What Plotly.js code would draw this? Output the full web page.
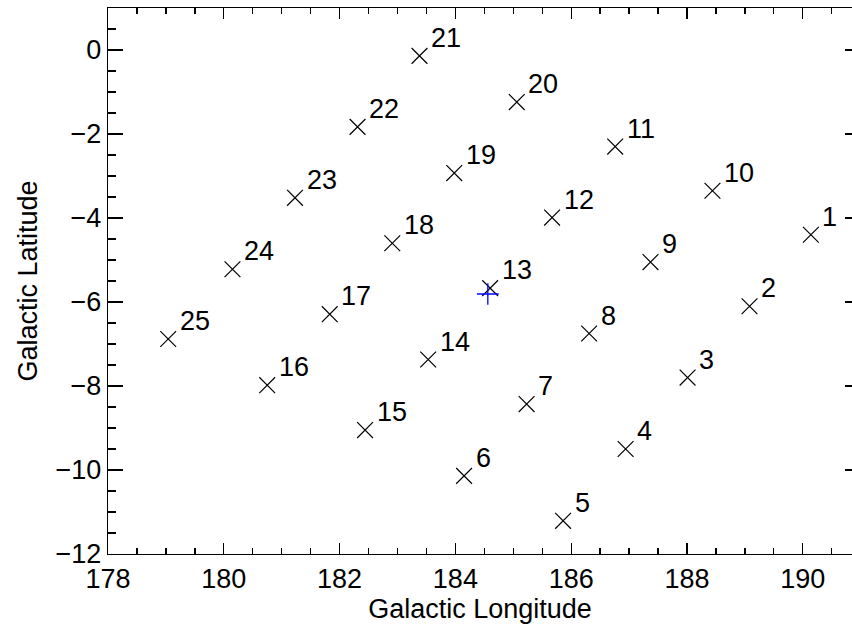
<!DOCTYPE html>
<html>
<head>
<meta charset="utf-8">
<script src="https://cdn.plot.ly/plotly-3.0.1.min.js"></script>
<style>
  html, body { margin: 0; padding: 0; overflow: hidden; background: #fff; }
  #chart { width: 852px; height: 625px; }
</style>
</head>
<body>
<div id="chart"></div>
<script>
// Field centres of the 25 pointings (galactic coordinates, degrees)
const fieldLabels = ['1','2','3','4','5','6','7','8','9','10','11','12','13',
                     '14','15','16','17','18','19','20','21','22','23','24','25'];
const fieldLon = [190.14, 189.08, 188.01, 186.94, 185.86, 184.15, 185.23, 186.31,
                  187.37, 188.44, 186.76, 185.67, 184.60, 183.53, 182.44, 180.75,
                  181.83, 182.91, 183.98, 185.06, 183.38, 182.31, 181.23, 180.15, 179.04];
const fieldLat = [-4.40, -6.10, -7.80, -9.50, -11.21, -10.14, -8.43, -6.75,
                  -5.05, -3.35, -2.30, -3.99, -5.67, -7.37, -9.05, -7.98,
                  -6.29, -4.60, -2.93, -1.24, -0.14, -1.83, -3.52, -5.22, -6.88];

// Reference position marked with a blue cross
const refLon = [184.56];
const refLat = [-5.81];

const FONT = 'Liberation Sans, Arial, Helvetica, sans-serif';
const FS = 27;

const traces = [
  {
    type: 'scatter', mode: 'markers',
    x: fieldLon, y: fieldLat,
    marker: { symbol: 'x-thin-open', size: 15.8, color: 'black',
              line: { color: 'black', width: 1.2 } },
    hoverinfo: 'x+y+text', text: fieldLabels
  },
  {
    type: 'scatter', mode: 'markers',
    x: refLon, y: refLat,
    marker: { symbol: 'cross-thin-open', size: 15.5, color: '#0000ff',
              line: { color: '#0000ff', width: 1.3 } }
  },
  // an empty trace puts the right-hand axis on the page
  { type: 'scatter', mode: 'markers', x: [], y: [], yaxis: 'y2', hoverinfo: 'skip' }
];

const annotations = fieldLabels.map((t, i) => ({
  x: fieldLon[i], y: fieldLat[i], xref: 'x', yref: 'y',
  text: t, showarrow: false,
  xanchor: 'left', yanchor: 'bottom',
  xshift: 9.5, yshift: 1,
  font: { family: FONT, size: FS, color: 'black' }
}));

const axisCommon = {
  showgrid: false, zeroline: false,
  showline: true, linecolor: 'black', linewidth: 1.3,
  ticks: 'inside', tickcolor: 'black', tickwidth: 1.3,
  tickfont: { family: FONT, size: FS, color: 'black' }
};

// The plot box runs past the right edge of the page: only the tips of the
// right-hand major ticks fall inside it, so they are drawn on a bare axis.
const layout = {
  width: 852, height: 625,
  margin: { l: 108, r: 0, t: 8, b: 71 },
  paper_bgcolor: 'white', plot_bgcolor: 'white',
  showlegend: false,
  font: { family: FONT, size: FS, color: 'black' },
  xaxis: Object.assign({}, axisCommon, {
    range: [178, 190.85], tick0: 178, dtick: 2, ticklen: 11, mirror: 'ticks',
    minor: { dtick: 0.5, ticklen: 6, ticks: 'inside', tickcolor: 'black', tickwidth: 1.3 },
    title: { text: 'Galactic Longitude', font: { family: FONT, size: FS, color: 'black' }, standoff: 4 }
  }),
  yaxis: Object.assign({}, axisCommon, {
    range: [-12, 1], tick0: 0, dtick: 2, ticklen: 15, mirror: false,
    minor: { dtick: 0.5, ticklen: 8, ticks: 'inside', tickcolor: 'black', tickwidth: 1.3 },
    title: { text: 'Galactic Latitude', font: { family: FONT, size: FS, color: 'black' }, standoff: 10 }
  }),
  yaxis2: {
    overlaying: 'y', side: 'right', matches: 'y',
    range: [-12, 1], tick0: 0, dtick: 2,
    showgrid: false, zeroline: false, showline: false,
    ticks: 'inside', ticklen: 7, tickcolor: 'black', tickwidth: 1.3,
    showticklabels: false
  },
  annotations: annotations
};

Plotly.newPlot('chart', traces, layout, { displayModeBar: false, staticPlot: true });
</script>
</body>
</html>
